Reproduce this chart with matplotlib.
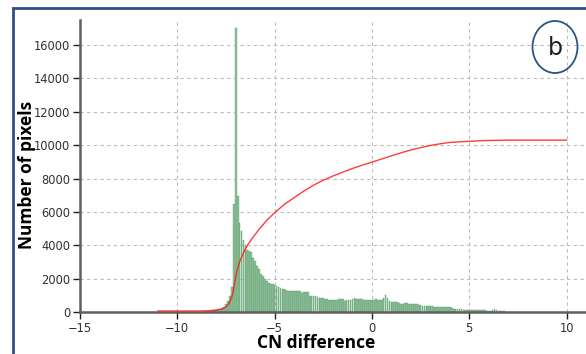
import numpy as np
import matplotlib.pyplot as plt
from matplotlib.patches import Ellipse, Rectangle

# histogram bins (centres, step 0.1) and pixel counts
bin_start = -8.5
bin_step = 0.1
counts = [40, 50, 60, 80, 100, 120, 150, 200, 250, 300,
          450, 650, 950, 1500, 6450, 17000, 6950, 5350, 4850, 4300,
          4000, 3700, 3650, 3600, 3250, 3050, 2750, 2600, 2300, 2150,
          2000, 1850, 1750, 1700, 1650, 1620, 1580, 1500, 1430, 1380,
          1350, 1320, 1280, 1260, 1250, 1250, 1240, 1230, 1230, 1160,
          1200, 1200, 1180, 980, 970, 980, 960, 900, 860, 830,
          820, 800, 760, 730, 720, 720, 730, 720, 780, 780,
          760, 680, 690, 700, 720, 800, 840, 780, 760, 780,
          760, 740, 740, 720, 730, 740, 720, 760, 740, 720,
          740, 820, 1020, 820, 650, 600, 600, 600, 580, 560,
          480, 490, 520, 520, 470, 460, 460, 480, 470, 400,
          390, 380, 380, 380, 370, 370, 360, 310, 300, 300,
          290, 310, 320, 320, 310, 300, 220, 200, 200, 190,
          190, 180, 140, 140, 130, 130, 120, 110, 100, 100,
          90, 90, 90, 90, 80, 80, 80, 100, 180, 120,
          80, 60, 50, 40]
bins = bin_start + bin_step*np.arange(len(counts))

# cumulative curve (red)
cum_x = [-11, -9, -8.5, -8, -7.7, -7.5, -7.35, -7.25, -7.15, -7.05, -6.95,
         -6.8, -6.6, -6.4, -6.1, -5.8, -5.4, -5.0, -4.5, -4.0, -3.5, -3.0,
         -2.5, -2.0, -1.5, -1.0, -0.5, 0.0, 0.5, 1.0, 1.5, 2.0, 2.5, 3.0,
         3.5, 4.0, 4.5, 5.0, 5.5, 6.0, 7.0, 10.0]
cum_y = [60, 60, 70, 110, 180, 300, 500, 750, 1100, 1800, 2400,
         3000, 3550, 4000, 4500, 4950, 5500, 5950, 6450, 6850, 7250, 7600,
         7900, 8150, 8380, 8600, 8800, 8980, 9170, 9360, 9540, 9710, 9850, 9980,
         10080, 10160, 10200, 10230, 10260, 10280, 10300, 10300]

xticks = [-15, -10, -5, 0, 5, 10]
yticks = [0, 2000, 4000, 6000, 8000, 10000, 12000, 14000, 16000]

W, H = 586, 354
fig = plt.figure(figsize=(W/100, H/100), dpi=100)
ax = fig.add_axes([80/W, 1-312/H, 1-80/W, 292/H])

ax.bar(bins, counts, width=0.09, color='#93c2a0', edgecolor='#4a9258',
       linewidth=0.25, zorder=2)
ax.plot(cum_x, cum_y, color='#ff1a1a', lw=1.0, alpha=0.85, zorder=3)

ax.set_xlim(-15, 11)
ax.set_ylim(0, 17500)
ax.set_xticks(xticks)
ax.set_yticks(yticks)
ax.grid(True, color='#bcbcbc', linestyle=(0, (3, 3)), linewidth=0.8, zorder=0)
ax.set_axisbelow(True)

for s in ['top', 'right']:
    ax.spines[s].set_visible(False)
for s in ['left', 'bottom']:
    ax.spines[s].set_color('#606060')
    ax.spines[s].set_linewidth(1.8)
ax.tick_params(axis='both', direction='out', length=5, width=1,
               color='#202020', labelsize=8.3, labelcolor='#303030', pad=2)

ax.set_xlabel('CN difference', fontsize=12.5, fontweight='bold',
              family='Open Sans')
ax.set_ylabel('Number of pixels', fontsize=12.5, fontweight='bold',
              family='Open Sans')
ax.xaxis.set_label_coords(0.466, -0.075)
ax.yaxis.set_label_coords(-0.087, 0.469)

# panel label
fig.add_artist(Ellipse((555/W, 1-47/H), 45/W, 52/H, transform=fig.transFigure,
                       fill=False, edgecolor='#2f5383', lw=1.3))
fig.text(555/W, 1-48/H, 'b', fontsize=17, ha='center', va='center',
         color='#202020')

# outer frame
fig.add_artist(Rectangle((13/W, -0.1), 1.2, 1-8/H+0.1, transform=fig.transFigure,
                         fill=False, edgecolor='#2f4f82', lw=2))

fig.savefig('out.png', dpi=100)
